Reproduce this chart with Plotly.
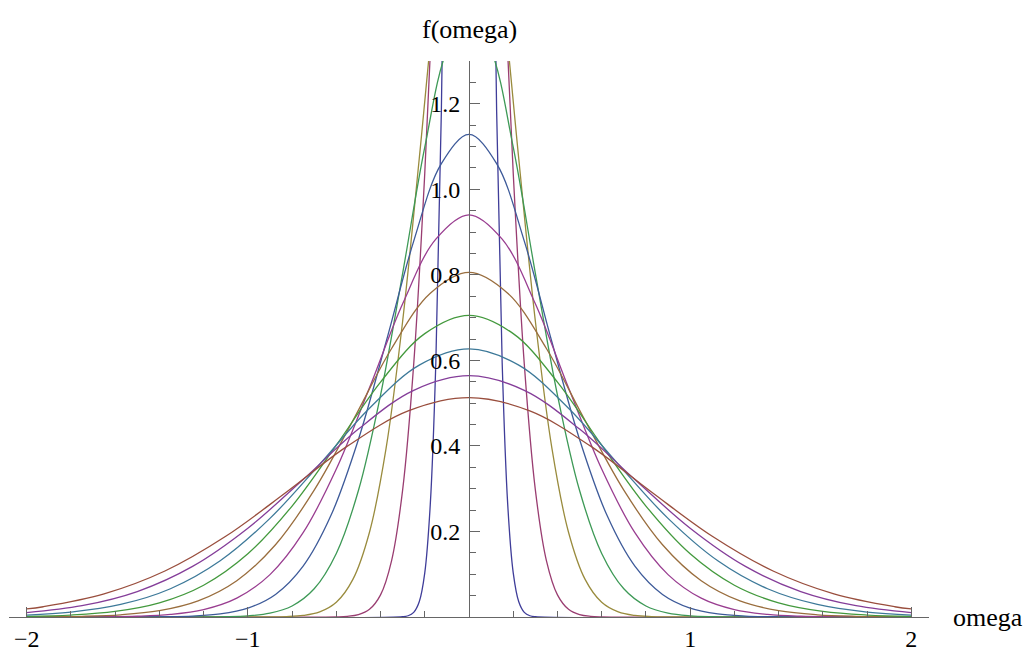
import plotly.graph_objects as go

# ---- data (curves for widths 0.1 ... 1.1) ----
x01 = [-2.0, -0.3, -0.275, -0.25, -0.225, -0.2, -0.175, -0.15, -0.125, -0.1, -0.075, -0.05, -0.025, 0.0,
       0.025, 0.05, 0.075, 0.1, 0.125, 0.15, 0.175, 0.2, 0.225, 0.25, 0.275, 0.3, 2.0]
y01 = [0.0, 0.00069, 0.00293, 0.01089, 0.03571, 0.10334, 0.26388, 0.59465, 1.1826, 2.07553, 3.21465, 4.3939, 5.30007, 5.6419,
       5.30007, 4.3939, 3.21465, 2.07553, 1.1826, 0.59465, 0.26388, 0.10334, 0.03571, 0.01089, 0.00293, 0.00069, 0.0]

x02 = [-2.0, -0.6, -0.55, -0.5, -0.45, -0.4, -0.35, -0.3, -0.25, -0.2, -0.15, -0.1, -0.05, 0.0,
       0.05, 0.1, 0.15, 0.2, 0.25, 0.3, 0.35, 0.4, 0.45, 0.5, 0.55, 0.6, 2.0]
y02 = [0.0, 0.00035, 0.00147, 0.00544, 0.01786, 0.05167, 0.13194, 0.29732, 0.5913, 1.03777, 1.60733, 2.19696, 2.65003, 2.82095,
       2.65003, 2.19696, 1.60733, 1.03777, 0.5913, 0.29732, 0.13194, 0.05167, 0.01786, 0.00544, 0.00147, 0.00035, 0.0]

x03 = [-2.0, -0.9, -0.825, -0.75, -0.675, -0.6, -0.525, -0.45, -0.375, -0.3, -0.225, -0.15, -0.075, 0.0,
       0.075, 0.15, 0.225, 0.3, 0.375, 0.45, 0.525, 0.6, 0.675, 0.75, 0.825, 0.9, 2.0]
y03 = [0.0, 0.00023, 0.00098, 0.00363, 0.0119, 0.03445, 0.08796, 0.19822, 0.3942, 0.69184, 1.07155, 1.46464, 1.76669, 1.88063,
       1.76669, 1.46464, 1.07155, 0.69184, 0.3942, 0.19822, 0.08796, 0.03445, 0.0119, 0.00363, 0.00098, 0.00023, 0.0]

x04 = [-2.0, -1.2, -1.1, -1.0, -0.9, -0.8, -0.7, -0.6, -0.5, -0.4, -0.3, -0.2, -0.1, 0.0,
       0.1, 0.2, 0.3, 0.4, 0.5, 0.6, 0.7, 0.8, 0.9, 1.0, 1.1, 1.2, 2.0]
y04 = [0.0, 0.00017, 0.00073, 0.00272, 0.00893, 0.02583, 0.06597, 0.14866, 0.29565, 0.51888, 0.80366, 1.09848, 1.32501, 1.41047,
       1.32501, 1.09848, 0.80366, 0.51888, 0.29565, 0.14866, 0.06597, 0.02583, 0.00893, 0.00272, 0.00073, 0.00017, 0.0]

x05 = [-2.0, -1.5, -1.375, -1.25, -1.125, -1.0, -0.875, -0.75, -0.625, -0.5, -0.375, -0.25, -0.125, 0.0,
       0.125, 0.25, 0.375, 0.5, 0.625, 0.75, 0.875, 1.0, 1.125, 1.25, 1.375, 1.5, 2.0]
y05 = [0.0, 0.00014, 0.00059, 0.00218, 0.00714, 0.02067, 0.05278, 0.11893, 0.23652, 0.41511, 0.64293, 0.87878, 1.06002, 1.12838,
       1.06002, 0.87878, 0.64293, 0.41511, 0.23652, 0.11893, 0.05278, 0.02067, 0.00714, 0.00218, 0.00059, 0.00014, 0.0]

x06 = [-2.0, -1.8, -1.65, -1.5, -1.35, -1.2, -1.05, -0.9, -0.75, -0.6, -0.45, -0.3, -0.15, 0.0,
       0.15, 0.3, 0.45, 0.6, 0.75, 0.9, 1.05, 1.2, 1.35, 1.5, 1.65, 1.8, 2.0]
y06 = [0.00001, 0.00012, 0.00049, 0.00181, 0.00595, 0.01722, 0.04398, 0.09911, 0.1971, 0.34593, 0.53578, 0.73232, 0.88335, 0.94032,
       0.88335, 0.73232, 0.53578, 0.34593, 0.1971, 0.09911, 0.04398, 0.01722, 0.00595, 0.00181, 0.00049, 0.00012, 0.00001]

x07 = [-2.0, -1.925, -1.75, -1.575, -1.4, -1.225, -1.05, -0.875, -0.7, -0.525, -0.35, -0.175, 0.0,
       0.175, 0.35, 0.525, 0.7, 0.875, 1.05, 1.225, 1.4, 1.575, 1.75, 1.925, 2.0]
y07 = [0.00023, 0.00042, 0.00156, 0.0051, 0.01476, 0.0377, 0.08495, 0.16894, 0.29651, 0.45924, 0.62771, 0.75716, 0.80599,
       0.75716, 0.62771, 0.45924, 0.29651, 0.16894, 0.08495, 0.0377, 0.01476, 0.0051, 0.00156, 0.00042, 0.00023]

x08 = [-2.0, -1.8, -1.6, -1.4, -1.2, -1.0, -0.8, -0.6, -0.4, -0.2, 0.0,
       0.2, 0.4, 0.6, 0.8, 1.0, 1.2, 1.4, 1.6, 1.8, 2.0]
y08 = [0.00136, 0.00446, 0.01292, 0.03298, 0.07433, 0.14783, 0.25944, 0.40183, 0.54924, 0.66251, 0.70524,
       0.66251, 0.54924, 0.40183, 0.25944, 0.14783, 0.07433, 0.03298, 0.01292, 0.00446, 0.00136]

x09 = [-2.0, -1.8, -1.575, -1.35, -1.125, -0.9, -0.675, -0.45, -0.225, 0.0,
       0.225, 0.45, 0.675, 0.9, 1.125, 1.35, 1.575, 1.8, 2.0]
y09 = [0.00449, 0.01148, 0.02932, 0.06607, 0.1314, 0.23062, 0.35719, 0.48821, 0.5889, 0.62688,
       0.5889, 0.48821, 0.35719, 0.23062, 0.1314, 0.06607, 0.02932, 0.01148, 0.00449]

x10 = [-2.0, -1.75, -1.5, -1.25, -1.0, -0.75, -0.5, -0.25, 0.0, 0.25, 0.5, 0.75, 1.0, 1.25, 1.5, 1.75, 2.0]
y10 = [0.01033, 0.02639, 0.05946, 0.11826, 0.20755, 0.32147, 0.43939, 0.53001, 0.56419,
       0.53001, 0.43939, 0.32147, 0.20755, 0.11826, 0.05946, 0.02639, 0.01033]

x11 = [-2.0, -1.925, -1.65, -1.375, -1.1, -0.825, -0.55, -0.275, 0.0, 0.275, 0.55, 0.825, 1.1, 1.375, 1.65, 1.925, 2.0]
y11 = [0.01881, 0.02399, 0.05406, 0.10751, 0.18869, 0.29224, 0.39945, 0.48182, 0.5129,
       0.48182, 0.39945, 0.29224, 0.18869, 0.10751, 0.05406, 0.02399, 0.01881]

colors = ["#3f3d99", "#993d71", "#998b3d", "#3d9956", "#3d5a99", "#993d90",
          "#996d3d", "#43993d", "#3d7999", "#843d99", "#994e3d"]

x_tick_vals = [-2, -1, 1, 2]
x_tick_text = ["\u22122", "\u22121", "1", "2"]
x_minor_vals = [-1.8, -1.6, -1.4, -1.2, -0.8, -0.6, -0.4, -0.2, 0.2, 0.4, 0.6, 0.8, 1.2, 1.4, 1.6, 1.8]
y_tick_vals = [0.2, 0.4, 0.6, 0.8, 1.0, 1.2]
y_tick_text = ["0.2", "0.4", "0.6", "0.8", "1.0", "1.2"]
y_minor_vals = [0.05, 0.1, 0.15, 0.25, 0.3, 0.35, 0.45, 0.5, 0.55, 0.65, 0.7, 0.75,
                0.85, 0.9, 0.95, 1.05, 1.1, 1.15, 1.25, 1.3]

y_title = "f(omega)"
x_title = "omega"

FONT = "Liberation Serif"
AX = "#666666"

series = [(x01, y01), (x02, y02), (x03, y03), (x04, y04), (x05, y05), (x06, y06),
          (x07, y07), (x08, y08), (x09, y09), (x10, y10), (x11, y11)]

fig = go.Figure()
for (xs, ys), c in zip(series, colors):
    fig.add_trace(go.Scatter(x=xs, y=ys, mode="lines",
                             line=dict(color=c, width=1.3, shape="spline", smoothing=1.0),
                             hoverinfo="skip", showlegend=False))

fig.update_layout(
    width=1024, height=651,
    margin=dict(l=9, r=95, t=61, b=34, autoexpand=False),
    paper_bgcolor="white", plot_bgcolor="white",
    showlegend=False,
    xaxis=dict(range=[-2.08, 2.08], showgrid=False, zeroline=False, automargin=False,
               showline=True, linecolor=AX, linewidth=1,
               ticks="inside", ticklen=10, tickwidth=1, tickcolor=AX,
               tickmode="array", tickvals=x_tick_vals, ticktext=x_tick_text,
               tickfont=dict(family=FONT, size=24, color="black"),
               ticklabelstandoff=0,
               minor=dict(ticks="inside", ticklen=6, tickwidth=1, tickcolor=AX,
                          tickmode="array", tickvals=x_minor_vals)),
    yaxis=dict(range=[0, 1.3], anchor="free", position=0.5, side="left", automargin=False,
               showgrid=False, zeroline=False,
               showline=True, linecolor=AX, linewidth=1,
               ticks="inside", ticklen=10, tickwidth=1, tickcolor=AX,
               tickmode="array", tickvals=y_tick_vals, ticktext=y_tick_text,
               tickfont=dict(family=FONT, size=24, color="black"),
               ticklabelstandoff=4,
               minor=dict(ticks="inside", ticklen=6, tickwidth=1, tickcolor=AX,
                          tickmode="array", tickvals=y_minor_vals)),
    annotations=[
        dict(text=y_title, x=0.5, y=1.056, xref="paper", yref="paper",
             xanchor="center", yanchor="middle", showarrow=False,
             font=dict(family=FONT, size=26, color="black")),
        dict(text=x_title, x=1.024, y=0, xref="paper", yref="paper",
             xanchor="left", yanchor="middle", showarrow=False,
             font=dict(family=FONT, size=26, color="black")),
    ],
)

fig.write_html("out.html", config={"displayModeBar": False})
with open("out.html", "r", encoding="utf-8") as f:
    html = f.read()
html = html.replace("<head>", "<head><style>html,body{margin:0;padding:0;overflow:hidden;}</style>", 1)
with open("out.html", "w", encoding="utf-8") as f:
    f.write(html)
